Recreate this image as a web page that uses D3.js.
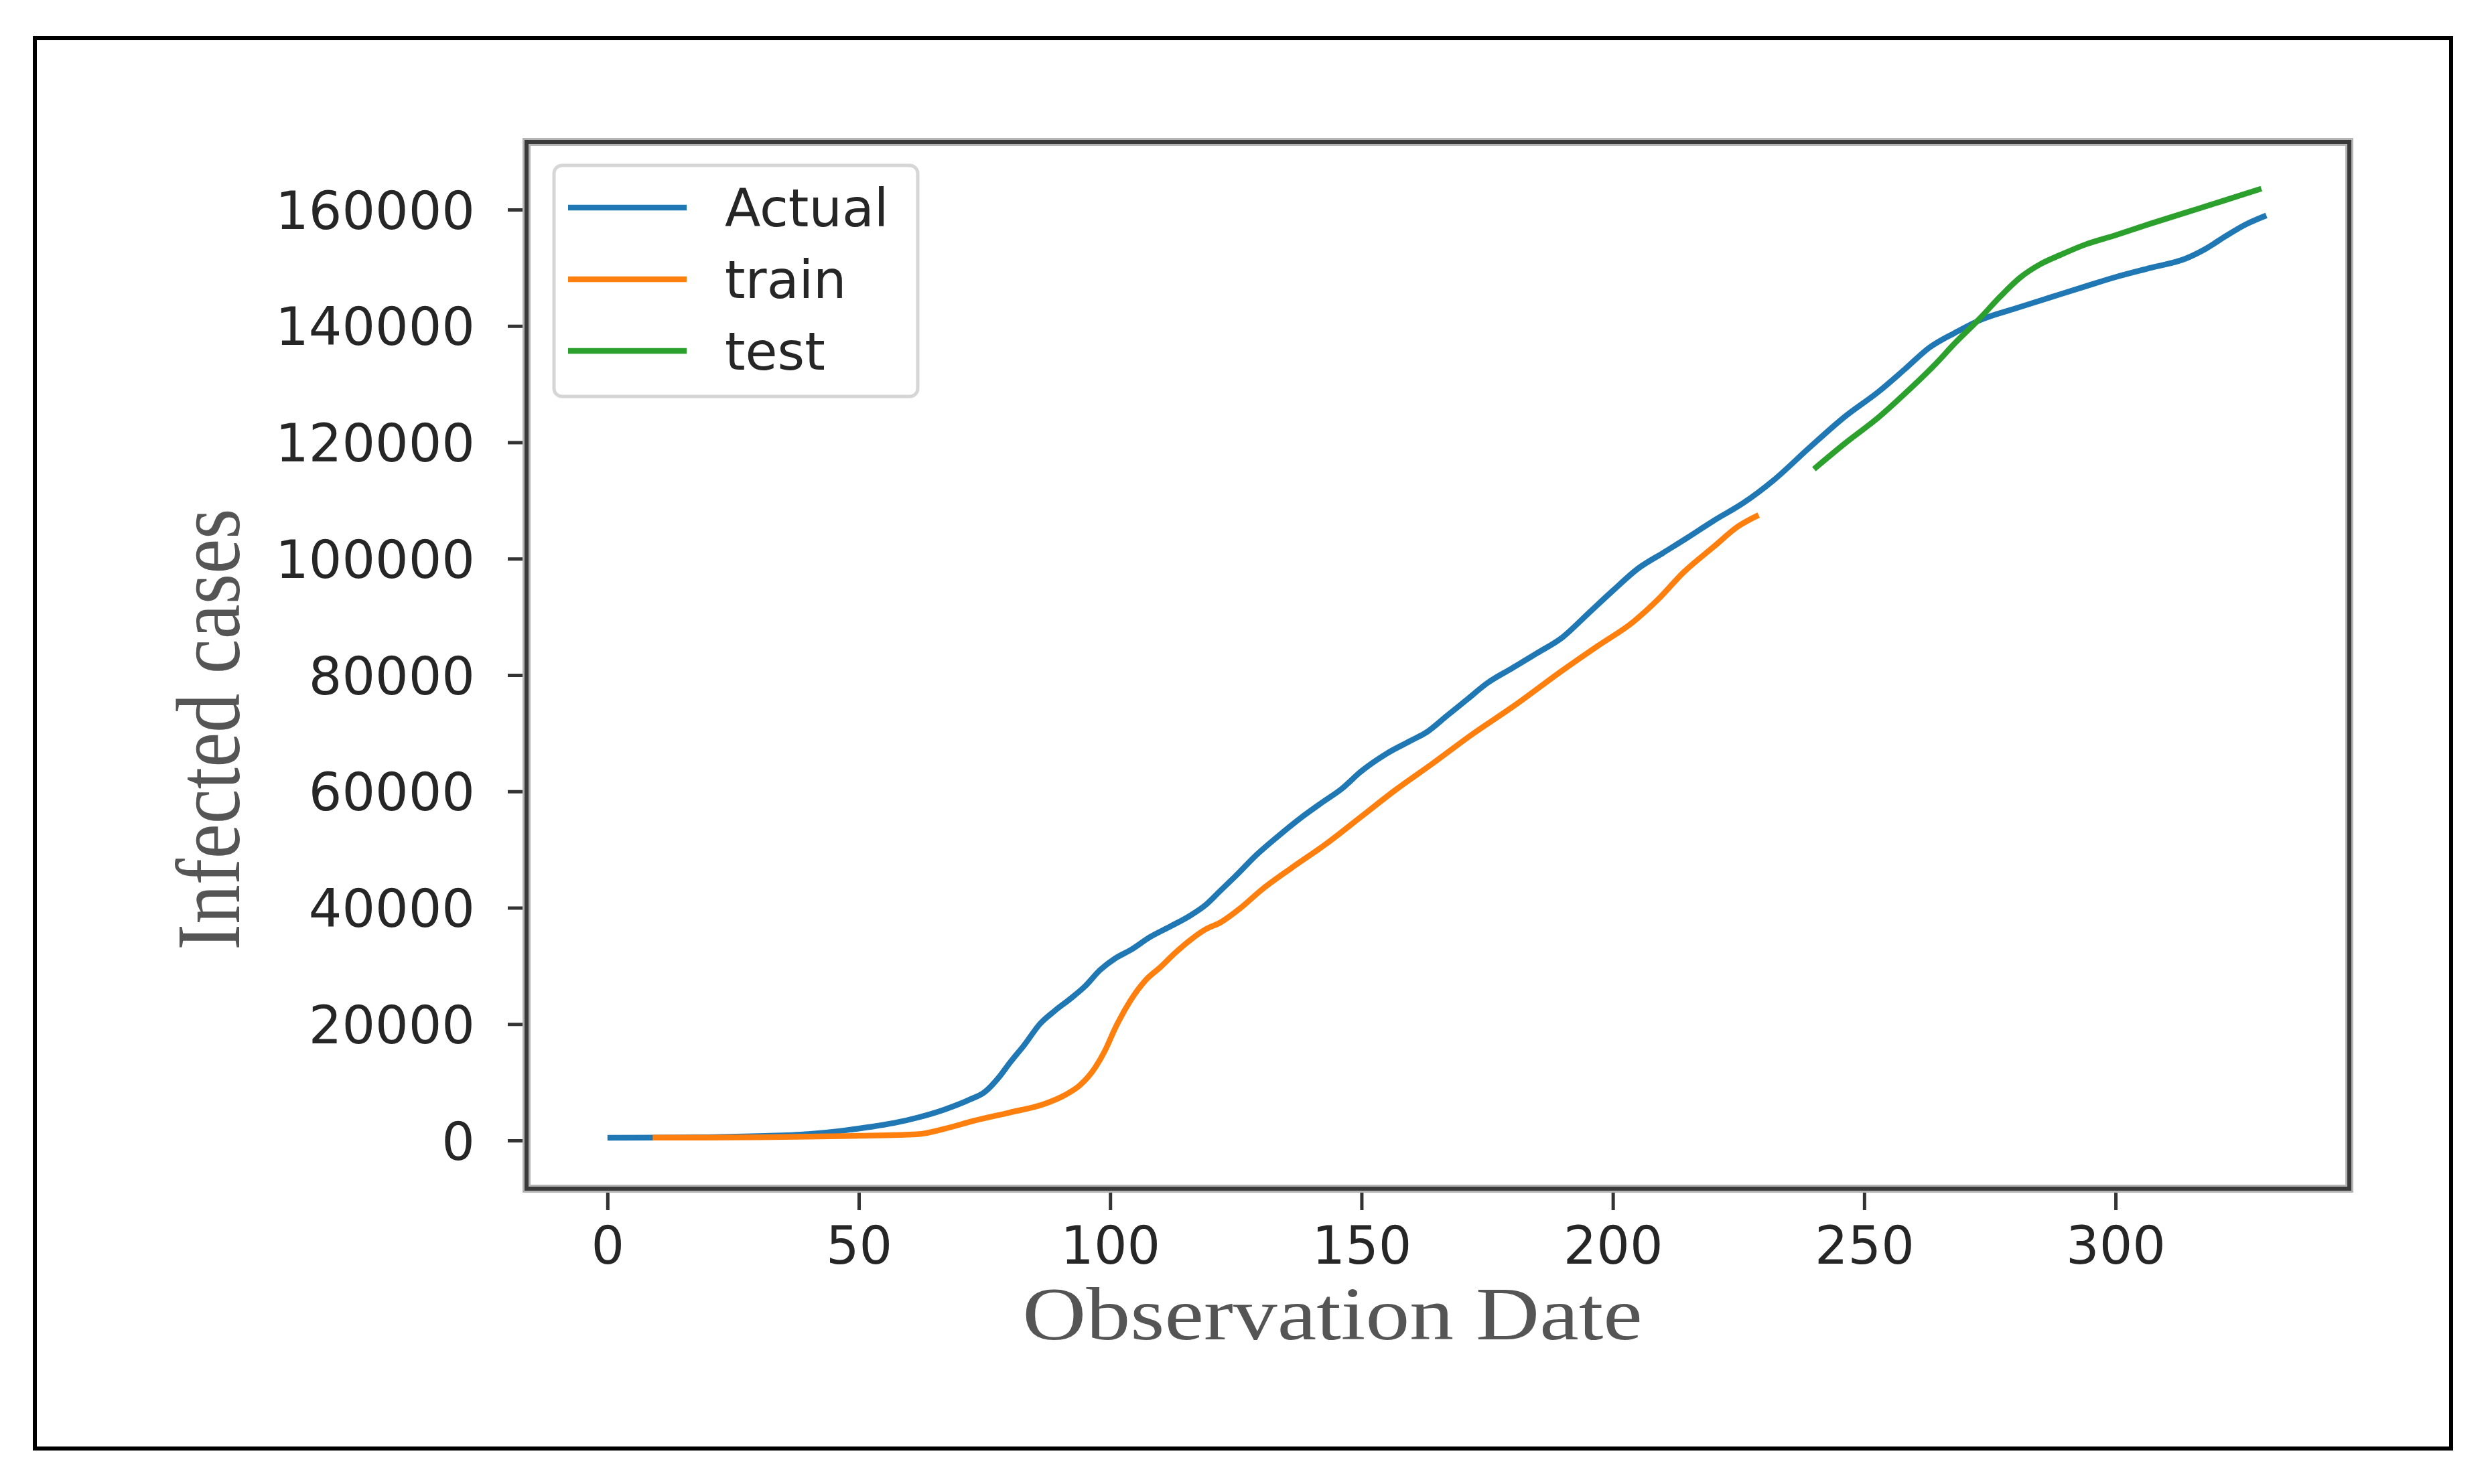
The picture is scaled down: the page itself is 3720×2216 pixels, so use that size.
<!DOCTYPE html>
<html>
<head>
<meta charset="utf-8">
<script src="https://cdn.jsdelivr.net/npm/d3@7"></script>
<style>
  html, body { margin: 0; padding: 0; background: #ffffff; }
  svg { display: block; }
</style>
</head>
<body>
<svg id="chart" width="3720" height="2216"></svg>
<script>
// ---------------- data ----------------
const xTicks = [0, 50, 100, 150, 200, 250, 300];
const yTicks = [0, 20000, 40000, 60000, 80000, 100000, 120000, 140000, 160000];
const seriesNames = ["Actual", "train", "test"];
const seriesColors = ["#1f77b4", "#ff7f0e", "#2ca02c"];

const actualDays = [0,10,20,30,40,46,52,57,62,67,72,75,78,80,83,86,89,92,95,98,101,104,108,112,116,119,122,125,129,133,138,142,146,150,155,160,163,167,171,175,180,185,190,195,200,205,210,215,220,226,232,239,246,253,258,263,268,273,280,287,294,300,307,314,318,322,326,330];
const actualCases = [460,480,560,750,1100,1600,2300,3000,4000,5300,7000,8300,11000,13300,16500,20000,22300,24300,26500,29300,31300,32700,35000,36800,38700,40500,43000,45500,49000,52000,55500,58000,60400,63500,66500,68800,70200,73000,75800,78600,81200,83800,86500,90500,94500,98300,101000,103700,106500,109600,113500,119000,124300,128800,132500,136300,138800,141000,143000,144900,146800,148400,150000,151600,153300,155500,157500,159000];

const trainDays = [9,20,30,40,50,58,62,67,73,80,87,91,94,97,99,101,104,107,110,113,116,119,122,126,130,136,143,150,157,164,172,180,190,197,204,209,214,220,225,229];
const trainCases = [480,500,550,650,800,950,1100,2000,3400,4800,6300,7800,9500,12500,15500,19300,24000,27500,29800,32300,34500,36300,37500,40000,43000,46800,51000,55700,60400,64700,69800,74500,80800,85000,89100,93000,97600,102000,105600,107500];

const testDays = [240,246,253,258,264,268,273,277,281,285,289,294,300,307,314,321,329];
const testCases = [115400,119700,124400,128300,133300,137000,141300,145000,148300,150600,152200,154000,155600,157600,159500,161400,163600];

// ---------------- layout ----------------
const svg = d3.select("#chart");
const W = 3720, H = 2216;
const plot = { left: 786, right: 3507, top: 212, bottom: 1775 };

svg.append("rect").attr("x", 0).attr("y", 0).attr("width", W).attr("height", H).attr("fill", "#ffffff");

// outer figure border
svg.append("rect")
  .attr("x", 52).attr("y", 57)
  .attr("width", 3659 - 52).attr("height", 2163 - 57)
  .attr("fill", "none").attr("stroke", "#000").attr("stroke-width", 6);

const x = d3.scaleLinear().domain([-16.1, 346.5]).range([plot.left, plot.right]);
const y = d3.scaleLinear().domain([-8288, 171625]).range([plot.bottom, plot.top]);

// lines
const series = [
  { days: actualDays, cases: actualCases },
  { days: trainDays, cases: trainCases },
  { days: testDays, cases: testCases }
];
const line = d3.line().x(d => x(d[0])).y(d => y(d[1])).curve(d3.curveMonotoneX);

const clip = svg.append("clipPath").attr("id", "plotclip")
  .append("rect").attr("x", plot.left).attr("y", plot.top)
  .attr("width", plot.right - plot.left).attr("height", plot.bottom - plot.top);

const linesG = svg.append("g").attr("clip-path", "url(#plotclip)");
series.forEach((s, i) => {
  const pts = s.days.map((d, k) => [d, s.cases[k]]);
  linesG.append("path")
    .datum(pts)
    .attr("d", line)
    .attr("fill", "none")
    .attr("stroke", seriesColors[i])
    .attr("stroke-width", 8.5)
    .attr("stroke-linejoin", "round")
    .attr("stroke-linecap", "butt");
});

// axes
const tickFont = "'DejaVu Sans', sans-serif";
const xAxis = d3.axisBottom(x).tickValues(xTicks).tickSize(32).tickFormat(d3.format("d"));
const gx = svg.append("g").attr("transform", `translate(0,${plot.bottom})`).call(xAxis);
gx.select(".domain").remove();
gx.selectAll(".tick line").attr("stroke", "#333").attr("stroke-width", 5);
gx.selectAll(".tick text")
  .attr("y", 112).attr("dy", 0)
  .attr("font-family", tickFont).attr("font-size", 78).attr("fill", "#262626");

const yAxis = d3.axisLeft(y).tickValues(yTicks).tickSize(28).tickPadding(49).tickFormat(d3.format("d"));
const gy = svg.append("g").attr("transform", `translate(${plot.left},0)`).call(yAxis);
gy.select(".domain").remove();
gy.selectAll(".tick line").attr("stroke", "#333").attr("stroke-width", 5);
gy.selectAll(".tick text")
  .attr("dy", "0.36em")
  .attr("font-family", tickFont).attr("font-size", 78).attr("fill", "#262626");

// plot frame (spines)
svg.append("rect")
  .attr("x", plot.left).attr("y", plot.top)
  .attr("width", plot.right - plot.left).attr("height", plot.bottom - plot.top)
  .attr("fill", "none").attr("stroke", "#b4b4b4").attr("stroke-width", 12);
svg.append("rect")
  .attr("x", plot.left).attr("y", plot.top)
  .attr("width", plot.right - plot.left).attr("height", plot.bottom - plot.top)
  .attr("fill", "none").attr("stroke", "#3a3a3a").attr("stroke-width", 6);

// axis titles
const serif = "'Liberation Serif', 'Times New Roman', serif";
svg.append("text")
  .attr("transform", "translate(1989,2000) scale(1.166,1)")
  .attr("text-anchor", "middle")
  .attr("font-family", serif).attr("font-size", 113).attr("fill", "#555")
  .text("Observation Date");

svg.append("text")
  .attr("transform", "translate(357,1089) scale(1.166,1) rotate(-90)")
  .attr("text-anchor", "middle")
  .attr("font-family", serif).attr("font-size", 117).attr("fill", "#555")
  .text("Infected cases");

// legend
const leg = svg.append("g");
leg.append("rect")
  .attr("x", 827).attr("y", 247).attr("width", 1370 - 827).attr("height", 592 - 247)
  .attr("rx", 12).attr("ry", 12)
  .attr("fill", "#ffffff").attr("stroke", "#d6d6d6").attr("stroke-width", 5);
const legY = [310, 417, 524];
seriesNames.forEach((name, i) => {
  leg.append("line")
    .attr("x1", 848).attr("x2", 1025).attr("y1", legY[i]).attr("y2", legY[i])
    .attr("stroke", seriesColors[i]).attr("stroke-width", 8.5);
  leg.append("text")
    .attr("x", 1082).attr("y", legY[i] + 28)
    .attr("font-family", tickFont).attr("font-size", 78).attr("fill", "#262626")
    .text(name);
});
</script>
</body>
</html>
